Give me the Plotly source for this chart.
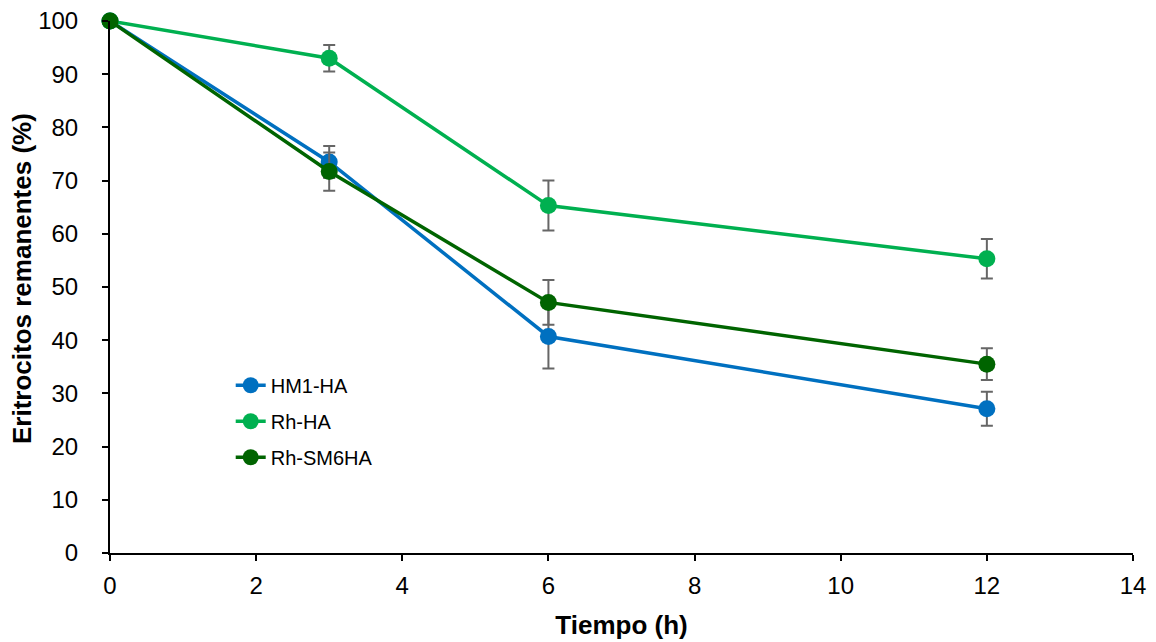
import plotly.graph_objects as go

tiempo = [0, 3, 6, 12]
series_names = ["HM1-HA", "Rh-HA", "Rh-SM6HA"]
hm1_ha = [100, 73.5, 40.7, 27.1]
hm1_ha_err = [0, 3.0, 6.0, 3.2]
rh_ha = [100, 93.0, 65.3, 55.3]
rh_ha_err = [0, 2.5, 4.7, 3.7]
rh_sm6ha = [100, 71.7, 47.1, 35.5]
rh_sm6ha_err = [0, 3.6, 4.2, 3.0]
colors = ["#0070C0", "#00B050", "#006400"]

fig = go.Figure()
for name, vals, errs, col in zip(series_names, [hm1_ha, rh_ha, rh_sm6ha],
                                 [hm1_ha_err, rh_ha_err, rh_sm6ha_err], colors):
    fig.add_trace(go.Scatter(
        x=tiempo, y=vals, name=name, mode="lines+markers", legendgroup=name,
        line=dict(color=col, width=3.5),
        marker=dict(color=col, size=17),
        error_y=dict(type="data", array=errs, visible=True,
                     color="#666666", thickness=2, width=6),
        cliponaxis=False,
    ))

font = "Liberation Sans, Arial, sans-serif"
fig.update_layout(
    width=1148, height=634,
    margin=dict(l=102, r=23, t=13, b=89),
    plot_bgcolor="white", paper_bgcolor="white",
    font=dict(family=font, size=24, color="black"),
    showlegend=True,
    legend=dict(x=0.118, y=0.352, xanchor="left", yanchor="top",
                bgcolor="rgba(0,0,0,0)", font=dict(size=20),
                tracegroupgap=7, itemwidth=30),
    xaxis=dict(
        range=[0, 14], tickvals=list(range(0, 15, 2)),
        showgrid=False, zeroline=False, automargin=False,
        showline=True, linecolor="black", linewidth=2,
        ticks="outside", ticklen=6, tickwidth=1.5, tickcolor="black",
        ticklabelstandoff=4, ticklabeloverflow="allow",
        title=dict(text="<b>Tiempo (h)</b>", font=dict(size=26), standoff=18),
    ),
    yaxis=dict(
        range=[0, 100], tickvals=list(range(0, 101, 10)),
        showgrid=False, zeroline=False, automargin=False,
        showline=True, linecolor="black", linewidth=2,
        ticks="outside", ticklen=6, tickwidth=1.5, tickcolor="black",
        ticklabelstandoff=19, ticklabeloverflow="allow",
    ),
    annotations=[dict(
        text="<b>Eritrocitos remanentes (%)</b>", font=dict(size=26),
        textangle=-90, xref="paper", yref="paper", x=0, y=0.515,
        xshift=-88, xanchor="center", yanchor="middle", showarrow=False,
    )],
)
fig.write_html("out.html")
